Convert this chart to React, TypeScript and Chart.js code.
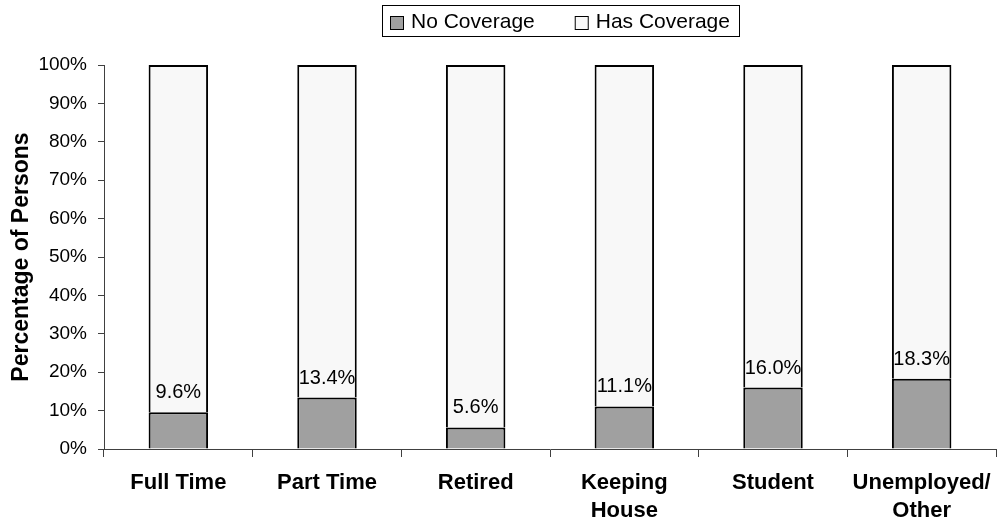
import React, { useEffect, useRef } from 'react';
import { Chart, registerables } from 'chart.js';

Chart.register(...registerables);

const FONT = '"Liberation Sans", Arial, Helvetica, sans-serif';
const AXIS = '#404040';

const categories: (string | string[])[] = [
  'Full Time',
  'Part Time',
  'Retired',
  ['Keeping', 'House'],
  'Student',
  ['Unemployed/', 'Other'],
];
const noCoverage = [9.6, 13.4, 5.6, 11.1, 16.0, 18.3];
const hasCoverage = [90.4, 86.6, 94.4, 88.9, 84.0, 81.7];
const noCoverageLabels = ['9.6%', '13.4%', '5.6%', '11.1%', '16.0%', '18.3%'];
const yTickLabels = ['0%', '10%', '20%', '30%', '40%', '50%', '60%', '70%', '80%', '90%', '100%'];
const seriesNames = ['No Coverage', 'Has Coverage'];
const yTitle = 'Percentage of Persons';

const valueLabelPlugin = {
  id: 'valueLabels',
  afterDatasetsDraw(chart: any) {
    const ctx = chart.ctx;
    const meta = chart.getDatasetMeta(0);
    ctx.save();
    ctx.font = `20px ${FONT}`;
    ctx.fillStyle = '#000';
    ctx.textAlign = 'center';
    ctx.textBaseline = 'alphabetic';
    meta.data.forEach((bar: any, i: number) => {
      ctx.fillText(noCoverageLabels[i], bar.x, bar.y - 14);
    });
    ctx.restore();
  },
};

const boxedLegendPlugin = {
  id: 'boxedLegend',
  afterDraw(chart: any) {
    const ctx = chart.ctx;
    const datasets = chart.data.datasets;
    ctx.save();
    ctx.font = `21px ${FONT}`;
    ctx.textBaseline = 'middle';
    ctx.textAlign = 'left';
    const boxLeft = 382.5;
    const boxTop = 5.5;
    const boxH = 31;
    const midY = 22.5;
    let x = 390;
    datasets.forEach((ds: any, i: number) => {
      ctx.fillStyle = ds.backgroundColor;
      ctx.fillRect(x + 0.5, 16.5, 13, 13);
      ctx.strokeStyle = '#000';
      ctx.lineWidth = 1;
      ctx.strokeRect(x + 0.5, 16.5, 13, 13);
      ctx.fillStyle = '#000';
      ctx.fillText(ds.label, x + 21, midY);
      const w = ctx.measureText(ds.label).width;
      x = x + 21 + w + (i < datasets.length - 1 ? 40 : 0);
    });
    const boxRight = Math.round(x + 9) + 0.5;
    ctx.strokeStyle = '#000';
    ctx.lineWidth = 1;
    ctx.strokeRect(boxLeft, boxTop, boxRight - boxLeft, boxH);
    ctx.restore();
  },
};

export default function App() {
  const canvasRef = useRef<HTMLCanvasElement | null>(null);

  useEffect(() => {
    document.body.style.margin = '0';
    const canvas = canvasRef.current;
    if (!canvas) return;
    const chart = new Chart(canvas, {
      type: 'bar',
      data: {
        labels: categories,
        datasets: [
          {
            label: seriesNames[0],
            data: noCoverage,
            backgroundColor: '#a0a0a0',
            borderColor: '#000',
            borderWidth: 2,
            barPercentage: 0.4,
            categoryPercentage: 1,
          },
          {
            label: seriesNames[1],
            data: hasCoverage,
            backgroundColor: '#f8f8f8',
            borderColor: '#000',
            borderWidth: 2,
            barPercentage: 0.4,
            categoryPercentage: 1,
          },
        ],
      },
      options: {
        responsive: false,
        animation: false,
        layout: { padding: { top: 65, right: 2, left: 0, bottom: 0 } },
        plugins: {
          legend: { display: false },
          tooltip: { enabled: false },
        },
        scales: {
          x: {
            stacked: true,
            grid: {
              display: true,
              drawOnChartArea: false,
              drawTicks: true,
              tickLength: 8,
              color: AXIS,
              offset: true,
            },
            border: { display: true, color: AXIS, width: 1 },
            ticks: {
              color: '#000',
              font: { family: FONT, size: 22, weight: 'bold', lineHeight: 28 / 22 },
              padding: 12,
              maxRotation: 0,
              autoSkip: false,
            },
            afterFit: (s: any) => {
              s.height = 74;
              s.paddingLeft = 0;
              s.paddingRight = 0;
            },
          },
          y: {
            stacked: true,
            min: 0,
            max: 100,
            ticks: {
              stepSize: 10,
              color: '#000',
              font: { family: FONT, size: 19 },
              padding: 11,
              callback: (_v: any, i: number) => yTickLabels[i],
            },
            grid: {
              display: true,
              drawOnChartArea: false,
              drawTicks: true,
              tickLength: 6,
              color: AXIS,
            },
            border: { display: true, color: AXIS, width: 1 },
            title: {
              display: true,
              text: yTitle,
              color: '#000',
              font: { family: FONT, size: 23, weight: 'bold' },
              padding: { top: 8, bottom: 0 },
            },
            afterFit: (s: any) => {
              s.width = 104;
              s.paddingTop = 0;
              s.paddingBottom = 0;
            },
          },
        },
      } as any,
      plugins: [valueLabelPlugin, boxedLegendPlugin],
    });
    return () => chart.destroy();
  }, []);

  return (
    <div style={{ width: 998, height: 523, background: '#fff' }}>
      <canvas ref={canvasRef} width={998} height={523} style={{ display: 'block', width: 998, height: 523 }} />
    </div>
  );
}
